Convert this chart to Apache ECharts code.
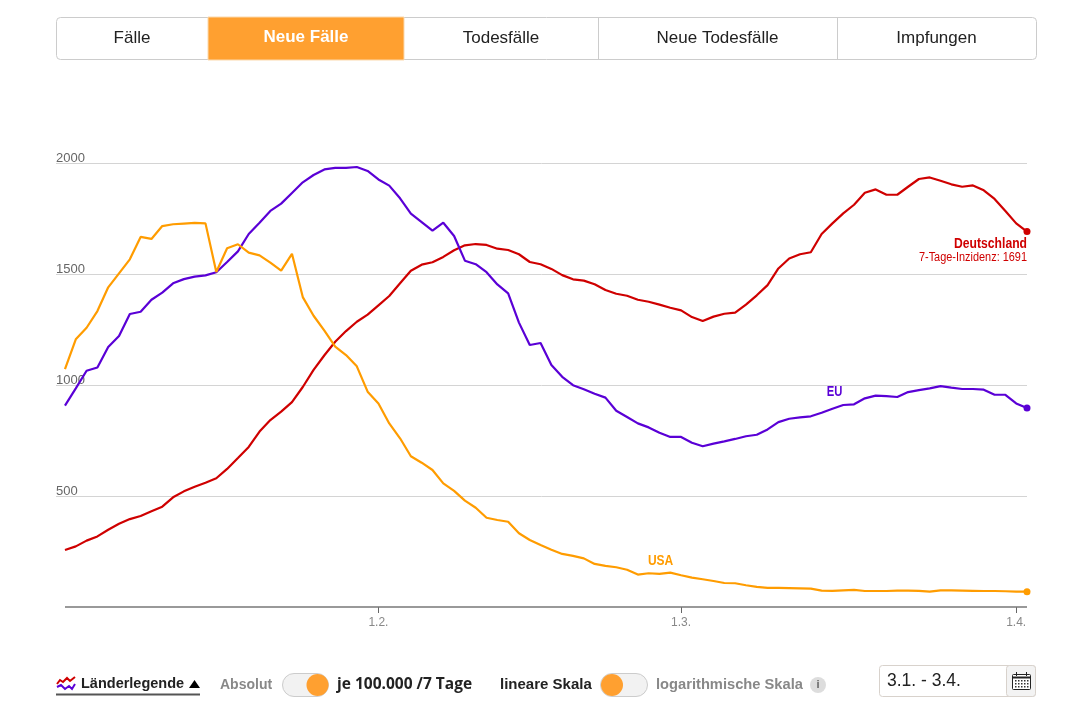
<!DOCTYPE html>
<html lang="de">
<head>
<meta charset="utf-8">
<title>Neue Fälle</title>
<style>
  html, body { margin: 0; padding: 0; background: #fff; }
  #chart { width: 1081px; height: 703px; }
</style>
</head>
<body>
<div id="chart"></div>
<script src="https://cdn.jsdelivr.net/npm/echarts@6/dist/echarts.min.js"></script>
<script>
// values per day, 3.1. to 2.4., 7-Tage-Inzidenz
const germany = [257, 273, 299, 318, 348, 375, 396, 410, 431, 452, 494, 521, 542, 560, 580, 622, 671, 721, 790, 842, 880, 923, 991, 1068, 1134, 1195, 1243, 1285, 1317, 1359, 1401, 1458, 1515, 1542, 1553, 1577, 1607, 1629, 1635, 1631, 1614, 1608, 1589, 1554, 1544, 1523, 1495, 1476, 1470, 1454, 1428, 1411, 1402, 1384, 1375, 1362, 1348, 1336, 1306, 1288, 1308, 1321, 1326, 1362, 1404, 1450, 1525, 1570, 1589, 1598, 1680, 1728, 1773, 1812, 1866, 1881, 1857, 1857, 1893, 1928, 1935, 1920, 1904, 1893, 1899, 1877, 1838, 1784, 1728, 1691];
const eu = [907, 985, 1064, 1079, 1171, 1221, 1320, 1330, 1384, 1416, 1458, 1477, 1488, 1494, 1508, 1554, 1602, 1680, 1731, 1784, 1817, 1865, 1913, 1946, 1971, 1978, 1978, 1982, 1964, 1926, 1898, 1841, 1772, 1734, 1695, 1731, 1671, 1560, 1544, 1508, 1453, 1413, 1281, 1180, 1189, 1090, 1037, 999, 981, 961, 943, 884, 856, 827, 809, 785, 766, 766, 740, 724, 736, 746, 757, 769, 776, 800, 833, 848, 854, 859, 875, 893, 910, 913, 940, 952, 950, 946, 968, 977, 985, 995, 988, 982, 982, 979, 956, 956, 917, 896];
const usa = [1071, 1206, 1258, 1333, 1440, 1503, 1566, 1667, 1658, 1716, 1724, 1727, 1730, 1728, 1509, 1616, 1634, 1596, 1584, 1551, 1515, 1591, 1396, 1312, 1245, 1173, 1135, 1084, 970, 917, 827, 760, 679, 650, 617, 557, 523, 479, 447, 402, 392, 384, 332, 302, 279, 258, 239, 230, 219, 194, 185, 179, 168, 146, 152, 149, 155, 143, 132, 125, 117, 108, 107, 98, 91, 86, 86, 85, 84, 83, 74, 73, 75, 77, 72, 72, 72, 74, 74, 73, 69, 75, 75, 74, 73, 72, 72, 71, 69, 69];

const tickDays = [29, 57, 88];
const tickLabels = ["1.2.", "1.3.", "1.4."];
const yTicks = [500, 1000, 1500, 2000];
const tabs = ["Fälle", "Neue Fälle", "Todesfälle", "Neue Todesfälle", "Impfungen"];

const RED = "#cf0000";
const PURPLE = "#5a00d6";
const ORANGE = "#ff9c00";
const ACCENT = "#ffa030";
const SANS = '"Liberation Sans", Arial, sans-serif';

const toPairs = (arr) => arr.map((v, i) => [i, v]);
const lastDay = usa.length - 1;

function makeSeries(name, values, color, extra) {
  return Object.assign(
    {
      name: name,
      type: "line",
      data: toPairs(values),
      showAllSymbol: true,
      symbol: (v, p) => (p.dataIndex === lastDay ? "circle" : "none"),
      symbolSize: 7,
      lineStyle: { color: color, width: 2.2 },
      itemStyle: { color: color },
      silent: true,
    },
    extra
  );
}

/* ---------- controls around the chart ---------- */
function txt(text, x, y, size, color, weight, align, family) {
  return {
    type: "text",
    x: x,
    y: y,
    silent: true,
    style: {
      text: text,
      fill: color,
      font: (weight || "normal") + " " + size + "px " + (family || SANS),
      textAlign: align || "left",
      textVerticalAlign: "middle",
    },
  };
}
function box(x, y, w, h, fill, stroke, r) {
  return {
    type: "rect",
    silent: true,
    shape: { x: x, y: y, width: w, height: h, r: r || 0 },
    style: { fill: fill, stroke: stroke, lineWidth: 1 },
  };
}
function vline(x, y1, y2, color) {
  return {
    type: "line",
    silent: true,
    shape: { x1: x, y1: y1, x2: x, y2: y2 },
    style: { stroke: color, lineWidth: 1 },
  };
}
function wiggle(points, color) {
  return {
    type: "polyline",
    silent: true,
    shape: { points: points },
    style: { stroke: color, lineWidth: 2, fill: "none" },
  };
}
function knob(cx, cy) {
  return {
    type: "circle",
    silent: true,
    shape: { cx: cx, cy: cy, r: 11 },
    style: { fill: ACCENT },
  };
}

const tabEdges = [56, 208, 404, 598, 837, 1036];
const graphics = [];

graphics.push(box(56.5, 17.5, 980, 42, "#fff", "#ccc", 4));
graphics.push(box(208, 17, 196, 43, ACCENT, "#fbd9ad"));
[598.5, 837.5].forEach((x) => graphics.push(vline(x, 18, 59, "#ccc")));
tabs.forEach((t, i) => {
  const cx = (tabEdges[i] + tabEdges[i + 1]) / 2;
  if (i === 1) graphics.push(txt(t, cx, 37.5, 17, "#fff", "bold", "center"));
  else graphics.push(txt(t, cx, 38, 17, "#222", "normal", "center"));
});

// legend switch
graphics.push(wiggle([[57, 684], [60, 680], [63, 682], [67, 678], [70, 681], [75, 677]], RED));
graphics.push(wiggle([[57, 687], [61, 685], [65, 689], [69, 686], [72, 689], [75, 684]], PURPLE));
graphics.push(txt("Länderlegende", 81, 684, 14.5, "#222", "bold"));
graphics.push({
  type: "polygon",
  silent: true,
  shape: { points: [[189, 688], [200, 688], [194.5, 680]] },
  style: { fill: "#000" },
});
graphics.push({
  type: "line",
  silent: true,
  shape: { x1: 56, y1: 694.5, x2: 200, y2: 694.5 },
  style: { stroke: "#555", lineWidth: 2 },
});

// toggles
graphics.push(txt("Absolut", 220, 685, 14, "#888", "bold"));
graphics.push(box(282.5, 673.5, 46, 23, "#f2f2f2", "#ccc", 11.5));
graphics.push(knob(317.5, 685));
graphics.push(txt("je 100.000 /7 Tage", 337, 685, 15.5, "#222", "bold", "left", '"Open Sans", sans-serif'));
graphics.push(txt("lineare Skala", 500, 685, 15, "#222", "bold"));
graphics.push(box(600.5, 673.5, 47, 23, "#f2f2f2", "#ccc", 11.5));
graphics.push(knob(612, 685));
graphics.push(txt("logarithmische Skala", 656, 685, 14.7, "#888", "bold"));
graphics.push({
  type: "circle",
  silent: true,
  shape: { cx: 818, cy: 685, r: 8 },
  style: { fill: "#ddd" },
});
graphics.push(txt("i", 818, 685, 11, "#666", "bold", "center"));

// date box
graphics.push(box(879.5, 665.5, 156, 31, "#fff", "#d8d2cc", 3));
graphics.push(box(1006.5, 665.5, 29, 31, "#f3f3f3", "#d8d2cc", 3));
graphics.push(txt("3.1. - 3.4.", 887, 681, 17.5, "#222"));
graphics.push(box(1012.5, 674.5, 18, 15, "#fff", "#222", 1));
graphics.push({
  type: "line",
  silent: true,
  shape: { x1: 1012, y1: 677.5, x2: 1031, y2: 677.5 },
  style: { stroke: "#222", lineWidth: 2 },
});
[1016.5, 1026.5].forEach((x) => graphics.push(vline(x, 672, 676, "#222")));
for (let r = 0; r < 3; ++r) {
  for (let c = 0; c < 5; ++c) {
    graphics.push({
      type: "rect",
      silent: true,
      shape: { x: 1015 + c * 3, y: 680 + r * 3, width: 1.5, height: 1.5 },
      style: { fill: "#333" },
    });
  }
}

/* ---------- chart ---------- */
const dom = document.getElementById("chart");
const myChart = echarts.init(dom, null, { renderer: "canvas" });

const option = {
  animation: false,
  backgroundColor: "#fff",
  textStyle: { fontFamily: SANS },
  grid: { left: 56, right: 54, top: 163, bottom: 96 },
  xAxis: {
    type: "value",
    min: -0.83, // room for the gridlines left of the first day
    max: lastDay,
    splitLine: { show: false },
    axisLine: { show: false },
    axisTick: {
      show: true,
      customValues: tickDays,
      length: 6,
      lineStyle: { color: "#666", width: 1 },
    },
    axisLabel: {
      customValues: tickDays,
      formatter: (v) => tickLabels[tickDays.indexOf(v)],
      margin: 10,
      fontSize: 12,
      color: "#888",
      fontFamily: SANS,
    },
  },
  yAxis: {
    type: "value",
    min: 0,
    max: 2000,
    interval: 500,
    axisLine: { show: false },
    axisTick: { show: false },
    splitLine: {
      show: true,
      showMinLine: false,
      lineStyle: { color: "#d4d4d4", width: 1 },
    },
    axisLabel: {
      inside: true,
      customValues: yTicks,
      formatter: (v) => String(v),
      margin: 0,
      align: "left",
      verticalAlign: "bottom",
      lineHeight: 9,
      fontSize: 13,
      color: "#666",
      fontFamily: SANS,
    },
  },
  series: [
    makeSeries("Deutschland", germany, RED, {
      markLine: {
        silent: true,
        symbol: "none",
        label: { show: false },
        lineStyle: { color: "#777", width: 1.5, type: "solid" },
        data: [[{ coord: [0, 0] }, { coord: [lastDay, 0] }]],
      },
    }),
    makeSeries("EU", eu, PURPLE),
    makeSeries("USA", usa, ORANGE),
  ],
};

myChart.setOption(option);

// series names are set condensed in the original, no narrow font here so squeeze them
function note(text, x, y, color, size, weight, align, squeeze) {
  const pos = myChart.convertToPixel({ gridIndex: 0 }, [x, y]);
  const el = txt(text, pos[0], pos[1], size, color, weight, align);
  el.scaleX = squeeze;
  return el;
}
graphics.push(note("Deutschland", lastDay, 1635, RED, 15, "bold", "right", 0.81));
graphics.push(note("7-Tage-Inzidenz: 1691", lastDay, 1572, RED, 12, "normal", "right", 0.91));
graphics.push(note("EU", 71.2, 968, PURPLE, 15, "bold", "center", 0.75));
graphics.push(note("USA", 55.1, 207, ORANGE, 15, "bold", "center", 0.8));

myChart.setOption({ graphic: { elements: graphics } });
</script>
</body>
</html>
